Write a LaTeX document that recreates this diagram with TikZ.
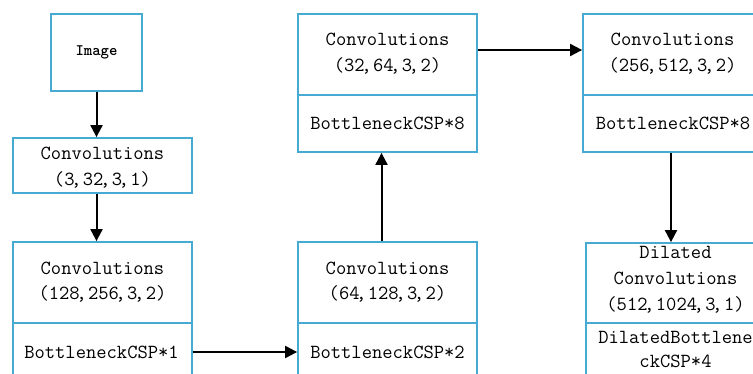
\documentclass[tikz,border=0pt]{standalone}
\usepackage{fontspec}
\usetikzlibrary{arrows.meta}
\definecolor{boxblue}{RGB}{70,170,210}
\newcommand{\cm}{\kern-3.5pt,\kern1.5pt}
\tikzset{
  box/.style={draw=boxblue, line width=1.8pt, fill=white, inner sep=0pt, minimum width=179pt},
  divline/.style={draw=boxblue, line width=1.8pt},
  txt/.style={font=\fontsize{20}{25.5}\selectfont\ttfamily, align=center, inner sep=0pt},
  arr/.style={draw=black, line width=2pt, -{Triangle[length=12pt,width=12pt]}}
}
\begin{document}
\begin{tikzpicture}[x=1pt,y=-1pt]
\useasboundingbox (0,0) rectangle (753,374);
\fill[white] (0,0) rectangle (753,374);
\begin{scope}
\clip (0,0) rectangle (753,374);
% boxes
\node[box, minimum width=91pt, minimum height=77pt] (img) at (96.5,52.5) {};
\node[txt, font=\fontsize{16}{18}\selectfont\ttfamily\bfseries] (timg) at (img.center) {Image};
\node[box, minimum height=55pt] (c1) at (102.5,165.5) {};
\node[box, minimum height=158pt] (c2) at (102.5,321) {};
\node[box, minimum height=158pt] (c3) at (387.5,321) {};
\node[box, minimum height=138pt] (c4) at (387.5,83) {};
\node[box, minimum height=138pt] (c5) at (672.5,83) {};
\node[box, minimum height=157pt] (c6) at (675.5,321.5) {};
% dividers
\draw[divline] (c2.west |- 0,323) -- (c2.east |- 0,323);
\draw[divline] (c3.west |- 0,323) -- (c3.east |- 0,323);
\draw[divline] (c4.west |- 0,95) -- (c4.east |- 0,95);
\draw[divline] (c5.west |- 0,95) -- (c5.east |- 0,95);
\draw[divline] (c6.west |- 0,323) -- (c6.east |- 0,323);
% texts
\node[txt] (t1) at (102.5,167.5) {Convolutions\\(3\cm 32\cm 3\cm 1)};
\node[txt] (t2) at (102.5,282) {Convolutions\\(128\cm 256\cm 3\cm 2)};
\node[txt] (b2) at (101.5,352) {BottleneckCSP*1};
\node[txt] (t3) at (387.5,282) {Convolutions\\(64\cm 128\cm 3\cm 2)};
\node[txt] (b3) at (387.5,352) {BottleneckCSP*2};
\node[txt] (t4) at (387.5,53.5) {Convolutions\\(32\cm 64\cm 3\cm 2)};
\node[txt] (b4) at (387.5,123) {BottleneckCSP*8};
\node[txt] (t5) at (672.5,53.5) {Convolutions\\(256\cm 512\cm 3\cm 2)};
\node[txt] (b5) at (673,123) {BottleneckCSP*8};
\node[txt, font=\fontsize{20}{26}\selectfont\ttfamily] (t6) at (675.5,280) {Dilated\\Convolutions\\(512\cm 1024\cm 3\cm 1)};
\node[txt, font=\fontsize{20}{24}\selectfont\ttfamily] (b6) at (675.5,350) {DilatedBottlene\\ckCSP*4};
% arrows
\draw[arr] (img.south) -- (img.south |- c1.north);
\draw[arr] (img.south |- c1.south) -- (img.south |- c2.north);
\draw[arr] (c2.east |- b2) -- (c3.west |- b2);
\draw[arr] ([xshift=-6pt]c3.north) -- ([xshift=-6pt]c4.south);
\draw[arr] (c4.east |- 0,50) -- (c5.west |- 0,50);
\draw[arr] ([xshift=-1.5pt]c5.south) -- ([xshift=-1.5pt]c5.south |- c6.north);
\end{scope}
\end{tikzpicture}
\end{document}
